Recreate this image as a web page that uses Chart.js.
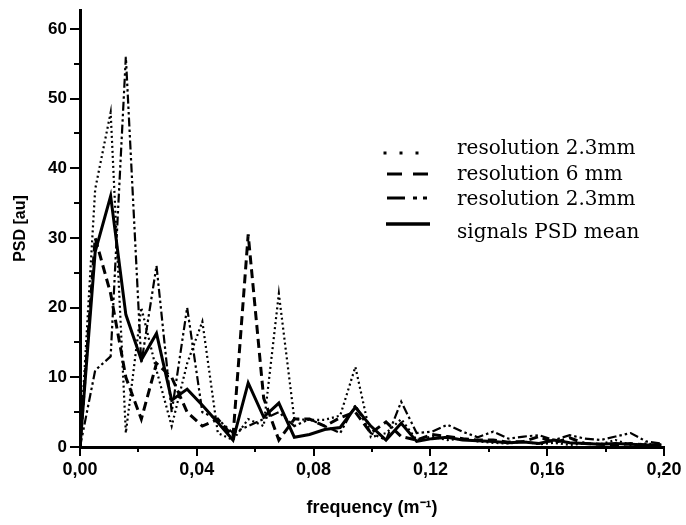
<!DOCTYPE html>
<html><head><meta charset="utf-8">
<script src="https://cdn.jsdelivr.net/npm/chart.js@4/dist/chart.umd.min.js"></script>
<style>html,body{margin:0;padding:0;background:#fff;}#wrap{width:686px;height:525px;}</style>
</head><body><div id="wrap"><canvas id="c" width="686" height="525"></canvas></div>
<script>
// frequency (m^-1)
const frequencies = [0, 0.0052, 0.0105, 0.0157, 0.021, 0.0262, 0.0314, 0.0367, 0.0419, 0.0472,
  0.0524, 0.0576, 0.0629, 0.0681, 0.0734, 0.0786, 0.0838, 0.0891, 0.0943, 0.0996,
  0.1048, 0.11, 0.1153, 0.1205, 0.1258, 0.131, 0.1362, 0.1415, 0.1467, 0.152,
  0.1572, 0.1624, 0.1677, 0.1729, 0.1782, 0.1834, 0.1886, 0.1939, 0.1991];
const psdRes23a = [0, 37, 48, 2, 20, 11, 3, 12, 18, 2, 1, 4, 3, 22, 4, 3.9, 3.9, 4.5, 11.5, 1.4,
  2, 4, 1, 1.5, 1, 1.2, 0.8, 0.6, 0.5, 0.8, 0.4, 0.6, 0.3, 0.5, 0.4, 1.0, 0.3, 0.5, 0.3];
const psdRes6 = [0, 30, 22, 10, 4, 12, 10, 5, 3, 4, 1.5, 30.5, 7, 1, 4, 4, 3, 4.2, 5, 2,
  3.6, 1.5, 1, 1.8, 1.5, 1.2, 1, 1, 0.7, 0.8, 1.5, 0.6, 1.3, 0.5, 0.4, 0.3, 0.5, 0.3, 0.3];
const psdRes23b = [0, 11, 13, 56, 12, 26, 5, 20, 5, 4, 2, 3, 4, 5, 3, 4, 3, 2, 6, 2,
  1, 6.5, 2, 2.2, 3.2, 2.2, 1.4, 2.2, 1.2, 1.5, 1.7, 1, 1.7, 1.2, 1, 1.5, 2, 0.8, 0.5];
const psdMean = [0, 28, 36, 19, 12.5, 16.3, 6.7, 8.3, 6, 3.5, 1, 9.2, 4.3, 6.3, 1.4, 1.8, 2.5, 2.8, 5.7, 3,
  1, 3.4, 0.8, 1.2, 1.4, 1.0, 0.9, 0.8, 0.6, 0.7, 0.5, 1.0, 0.6, 0.5, 0.4, 0.5, 0.4, 0.3, 0.3];
const seriesLabels = ['resolution 2.3mm', 'resolution 6 mm', 'resolution 2.3mm', 'signals PSD mean'];
const yTickLabels = [0, 10, 20, 30, 40, 50, 60];
const xTickLabels = [0, 0.04, 0.08, 0.12, 0.16, 0.20];
const yTickMarks = [0, 5, 10, 15, 20, 25, 30, 35, 40, 45, 50, 55, 60];
const xTickMarks = [0, 0.02, 0.04, 0.06, 0.08, 0.10, 0.12, 0.14, 0.16, 0.18, 0.20];

const toXY = arr => arr.map((v, i) => ({x: frequencies[i], y: v}));

const styles = [
  {borderDash: [2, 3], borderWidth: 2.2},
  {borderDash: [9, 5], borderWidth: 3},
  {borderDash: [9, 3, 2.5, 3, 2.5, 3], borderWidth: 2.2},
  {borderDash: [], borderWidth: 3}
];
const series = [psdRes23a, psdRes6, psdRes23b, psdMean];

const datasets = series.map((s, i) => ({
  label: seriesLabels[i],
  data: toXY(s),
  borderColor: '#000',
  backgroundColor: '#000',
  borderWidth: styles[i].borderWidth,
  borderDash: styles[i].borderDash,
  pointRadius: 0,
  tension: 0,
  fill: false
}));

const decor = {
  id: 'decor',
  afterDraw(chart) {
    const ctx = chart.ctx;
    const xs = chart.scales.x, ys = chart.scales.y;
    ctx.save();
    ctx.strokeStyle = '#000';
    ctx.lineWidth = 2;
    ctx.setLineDash([]);
    yTickMarks.forEach(v => {
      const y = Math.round(ys.getPixelForValue(v));
      const len = (v % 10 === 0) ? 10 : 6;
      ctx.beginPath(); ctx.moveTo(xs.left - len, y); ctx.lineTo(xs.left, y); ctx.stroke();
    });
    xTickMarks.forEach((v, i) => {
      const x = Math.round(xs.getPixelForValue(v));
      const len = (i % 2 === 0) ? 9 : 5;
      ctx.beginPath(); ctx.moveTo(x, ys.bottom); ctx.lineTo(x, ys.bottom + len); ctx.stroke();
    });
    // legend
    const tx = 457;
    const rows = [{ly: 153, ty: 154}, {ly: 174, ty: 180}, {ly: 198, ty: 205}, {ly: 224, ty: 238}];
    ctx.fillStyle = '#000';
    [385, 401, 417].forEach(x => { ctx.fillRect(x - 1.5, rows[0].ly - 1.5, 3, 3); });
    ctx.lineWidth = 3;
    ctx.beginPath(); ctx.moveTo(387, rows[1].ly); ctx.lineTo(402, rows[1].ly);
    ctx.moveTo(413, rows[1].ly); ctx.lineTo(428, rows[1].ly); ctx.stroke();
    ctx.beginPath(); ctx.moveTo(387, rows[2].ly); ctx.lineTo(405, rows[2].ly); ctx.stroke();
    ctx.fillRect(413, rows[2].ly - 1.5, 4, 3);
    ctx.fillRect(423, rows[2].ly - 1.5, 4, 3);
    ctx.lineWidth = 3.5;
    ctx.beginPath(); ctx.moveTo(386, rows[3].ly); ctx.lineTo(430, rows[3].ly); ctx.stroke();
    ctx.font = '20px "DejaVu Serif"';
    ctx.textBaseline = 'alphabetic';
    ctx.textAlign = 'left';
    seriesLabels.forEach((t, i) => ctx.fillText(t, tx, rows[i].ty));
    ctx.restore();
  }
};

new Chart(document.getElementById('c'), {
  type: 'line',
  data: {datasets},
  plugins: [decor],
  options: {
    responsive: false,
    animation: false,
    layout: {padding: {top: 10, right: 22, left: 0, bottom: 0}},
    plugins: {legend: {display: false}, tooltip: {enabled: false}},
    scales: {
      x: {
        type: 'linear', min: 0, max: 0.2,
        afterBuildTicks: s => { s.ticks = xTickLabels.map(v => ({value: v})); },
        afterFit: s => { s.height = 78; s.paddingLeft = 0; s.paddingRight = 0; },
        grid: {display: false, drawTicks: false},
        border: {display: true, color: '#000', width: 3},
        ticks: {
          color: '#000', padding: 12, maxRotation: 0, autoSkip: false,
          font: {family: 'Liberation Sans', weight: 'bold', size: 18},
          callback: v => Number(v).toFixed(2).replace('.', ',')
        },
        title: {display: true, text: 'frequency (m⁻¹)', color: '#000',
          font: {family: 'Liberation Sans', weight: 'bold', size: 18}, padding: {bottom: 6}}
      },
      y: {
        min: 0, max: 62.7,
        afterBuildTicks: s => { s.ticks = yTickLabels.map(v => ({value: v})); },
        afterFit: s => { s.width = 80; s.paddingTop = 0; s.paddingBottom = 0; },
        grid: {display: false, drawTicks: false},
        border: {display: true, color: '#000', width: 3},
        ticks: {
          color: '#000', padding: 13,
          font: {family: 'Liberation Sans', weight: 'bold', size: 17}
        },
        title: {display: true, text: 'PSD [au]', color: '#000',
          font: {family: 'Liberation Sans', weight: 'bold', size: 16}, padding: {top: 11}}
      }
    }
  }
});
</script></body></html>
